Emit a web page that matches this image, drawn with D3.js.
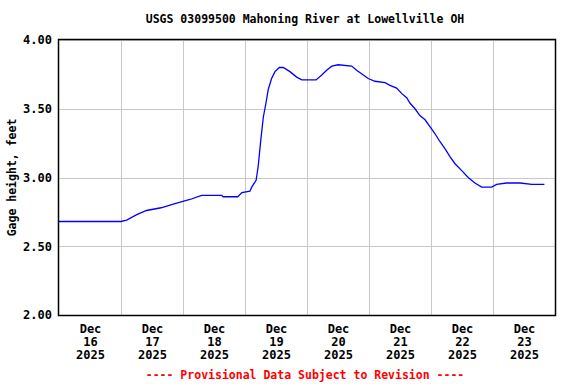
<!DOCTYPE html>
<html>
<head>
<meta charset="utf-8">
<script src="https://cdn.jsdelivr.net/npm/d3@7"></script>
<style>
  body { margin: 0; background: #fff; }
  svg text { font-family: "DejaVu Sans Mono", "Liberation Mono", monospace; font-weight: bold; }
</style>
</head>
<body>
<svg id="drawing_region"></svg>
<script>
// hours after Dec 16 2025 00:00 and gage height in feet
const hours = [0, 24, 26.2, 30.1, 33.9, 39.5, 44.9, 50.7, 55.2, 63.0, 63.5, 69.2, 70.8, 73.9,
    74.6, 76.3, 77.1, 78.1, 79.1, 80.1, 81.0, 82.3, 83.6, 85.3, 86.8, 89.4, 92.0, 94.0,
    99.5, 101.7, 103.6, 105.6, 108.1, 113.3, 115.2, 117.8, 119.7, 122.3, 126.2, 128.1,
    130.7, 132.7, 134.6, 135.9, 137.8, 139.7, 141.7, 143.6, 145.5, 147.5, 149.4, 151.4,
    153.3, 155.9, 158.4, 161.0, 163.6, 167.5, 169.4, 173.3, 178.5, 183.0, 187.9];
const gage = [2.68, 2.68, 2.69, 2.73, 2.76, 2.78, 2.81, 2.84, 2.87, 2.87, 2.86, 2.86, 2.89, 2.90,
    2.93, 2.98, 3.08, 3.27, 3.44, 3.54, 3.64, 3.72, 3.77, 3.80, 3.80, 3.77, 3.73, 3.71,
    3.71, 3.745, 3.78, 3.81, 3.82, 3.81, 3.78, 3.745, 3.72, 3.70, 3.69, 3.67,
    3.65, 3.61, 3.58, 3.54, 3.50, 3.45, 3.42, 3.37, 3.32, 3.26, 3.21, 3.15,
    3.10, 3.05, 3.00, 2.96, 2.93, 2.93, 2.95, 2.96, 2.96, 2.95, 2.95];
const yticks = [2.0, 2.5, 3.0, 3.5, 4.0];
const days = ["16", "17", "18", "19", "20", "21", "22", "23"];

const start = new Date(2025, 11, 16);
const data = hours.map((h, i) => ({ t: new Date(start.getTime() + h * 3600000), v: gage[i] }));

const width = 576, height = 384;
const margin = { top: 40, right: 21, bottom: 69, left: 59 };
const inner_width = width - margin.left - margin.right;
const inner_height = height - margin.top - margin.bottom;

const svg = d3.select('#drawing_region')
    .attr('width', width)
    .attr('height', height);

const chart = svg.append('g')
    .attr('transform', `translate(${margin.left}, ${margin.top})`);

const xscale = d3.scaleTime()
    .domain([start, new Date(2025, 11, 24)])
    .range([0, inner_width]);

const yscale = d3.scaleLinear()
    .domain([2, 4])
    .range([inner_height, 0]);

const midnights = days.slice(1).map(d => new Date(2025, 11, +d));
const noons = days.map(d => new Date(2025, 11, +d, 12));

// grid
chart.append('g')
    .selectAll('line.vgrid')
    .data(midnights)
    .join('line')
    .attr('x1', d => Math.round(xscale(d)) + 0.5)
    .attr('x2', d => Math.round(xscale(d)) + 0.5)
    .attr('y1', 0)
    .attr('y2', inner_height)
    .attr('stroke', '#c8c8c8');

chart.append('g')
    .selectAll('line.hgrid')
    .data(yticks)
    .join('line')
    .attr('x1', 0)
    .attr('x2', inner_width)
    .attr('y1', d => Math.round(yscale(d)) + 0.5)
    .attr('y2', d => Math.round(yscale(d)) + 0.5)
    .attr('stroke', '#c8c8c8');

// y axis labels
const yaxis = d3.axisLeft(yscale)
    .tickValues(yticks)
    .tickFormat(d3.format('.2f'))
    .tickSize(0)
    .tickPadding(7);

chart.append('g')
    .call(yaxis)
    .call(g => g.select('.domain').remove())
    .selectAll('text')
    .attr('font-size', 12)
    .attr('fill', '#000');

// x axis labels
const xaxis = d3.axisBottom(xscale)
    .tickValues(noons)
    .tickSize(0)
    .tickFormat('');

const xg = chart.append('g')
    .attr('transform', `translate(0, ${inner_height})`)
    .call(xaxis)
    .call(g => g.select('.domain').remove());

xg.selectAll('.tick').each(function (d, i) {
    const t = d3.select(this).append('text')
        .attr('fill', '#000')
        .attr('font-size', 12)
        .attr('text-anchor', 'middle')
        .attr('y', 18);
    ['Dec', days[i], '2025'].forEach((s, k) => {
        t.append('tspan').attr('x', 0).attr('dy', k === 0 ? 0 : 13).text(s);
    });
});

// line
const line = d3.line()
    .x(d => xscale(d.t))
    .y(d => yscale(d.v));

chart.append('path')
    .datum(data)
    .attr('fill', 'none')
    .attr('stroke', '#0000ff')
    .attr('stroke-width', 1.3)
    .attr('d', line);

// frame
chart.append('rect')
    .attr('x', -0.5)
    .attr('y', -0.5)
    .attr('width', inner_width + 1)
    .attr('height', inner_height + 1)
    .attr('fill', 'none')
    .attr('stroke', '#000')
    .attr('stroke-width', 1.5);

// titles
svg.append('text')
    .attr('x', 305)
    .attr('y', 23)
    .attr('text-anchor', 'middle')
    .attr('font-size', 11.5)
    .text('USGS 03099500 Mahoning River at Lowellville OH');

svg.append('text')
    .attr('transform', `translate(16, ${margin.top + inner_height / 2}) rotate(-90)`)
    .attr('text-anchor', 'middle')
    .attr('font-size', 11.5)
    .text('Gage height, feet');

svg.append('text')
    .attr('x', 305)
    .attr('y', 379)
    .attr('text-anchor', 'middle')
    .attr('font-size', 11.5)
    .attr('fill', '#ff0000')
    .text('---- Provisional Data Subject to Revision ----');
</script>
</body>
</html>
